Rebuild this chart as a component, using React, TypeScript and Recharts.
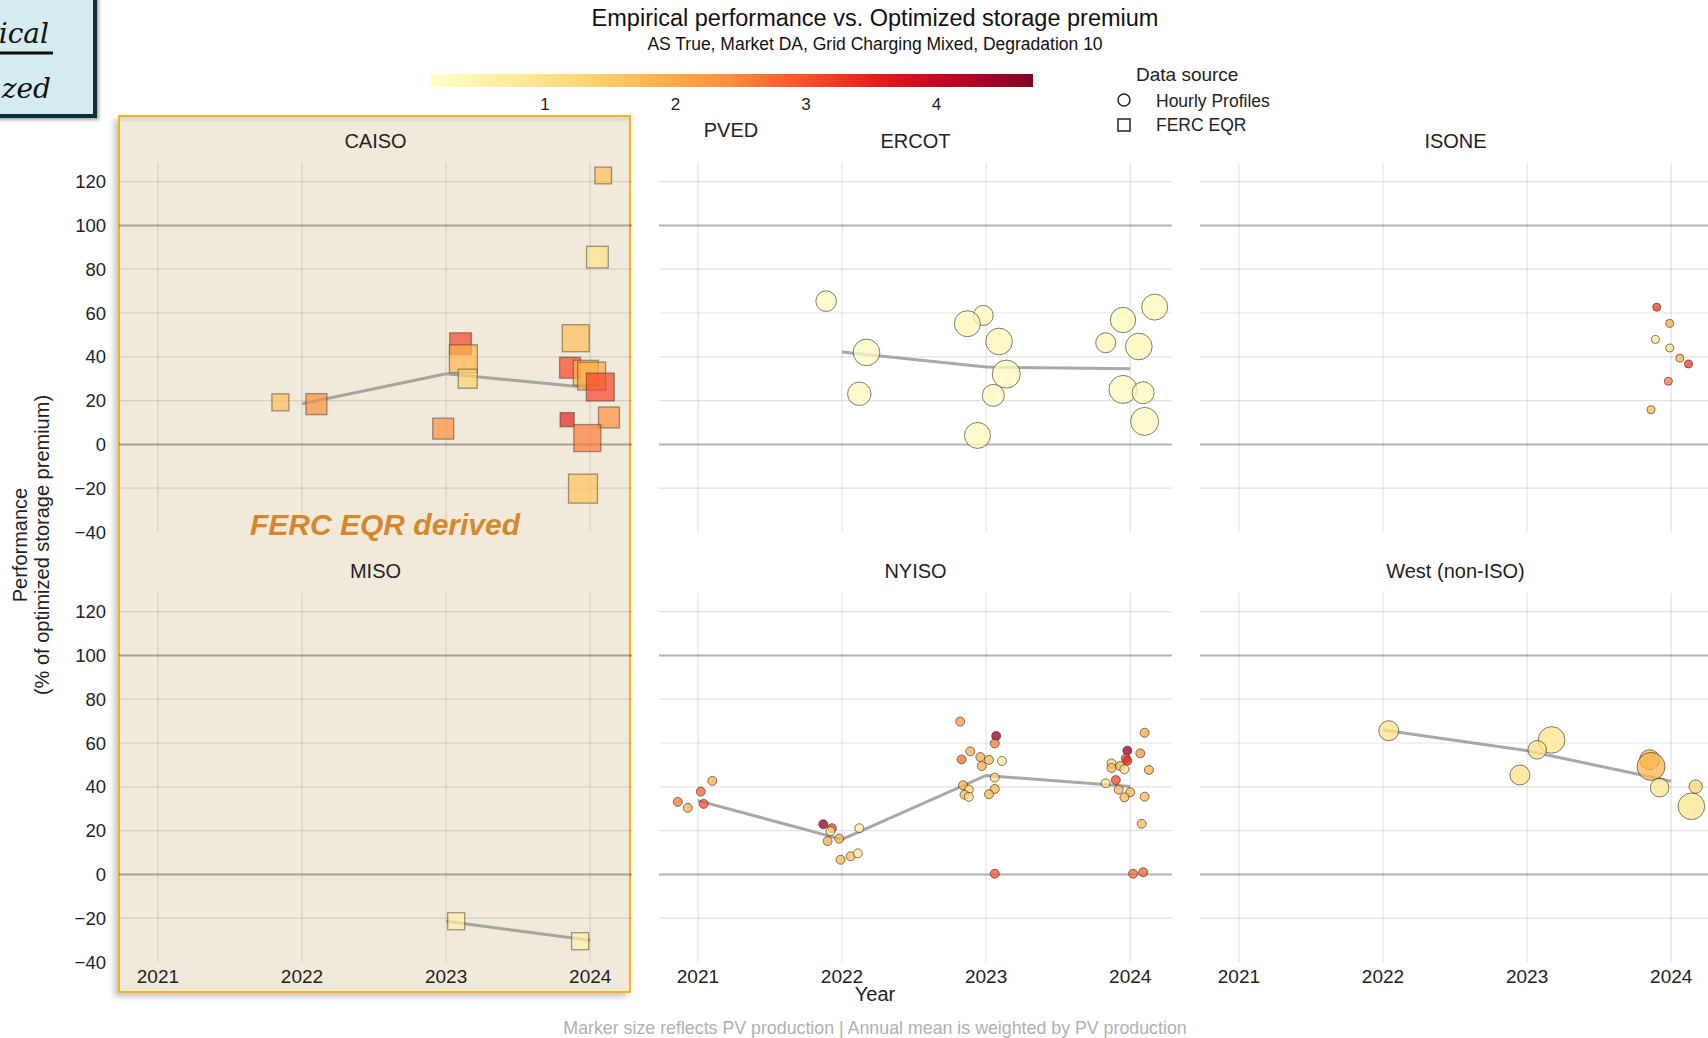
import React from "react";
import { ComposedChart, Scatter, XAxis, YAxis, ZAxis, CartesianGrid } from "recharts";

const YEARS = [2021, 2022, 2023, 2024];
const PERF_TICKS = [-40, -20, 0, 20, 40, 60, 80, 100, 120];
const MINOR_GRID = [-20, 20, 40, 60, 80, 120];
const MAJOR_GRID = [0, 100];
const CBAR_TICKS = [1, 2, 3, 4];

// rows: [year, performance %, PV production (rel.), colour value]
const caiso = [
  [2021.85, 19.2, 290, 1.7],
  [2022.1, 18.4, 440, 2.4],
  [2022.98, 7.2, 440, 2.4],
  [2023.1, 46, 470, 3.1],
  [2023.12, 39.1, 780, 1.8],
  [2023.15, 30, 360, 1.4],
  [2024.09, 122.8, 280, 1.7],
  [2024.05, 85.5, 470, 1.0],
  [2023.9, 48.5, 730, 1.7],
  [2023.86, 35, 440, 3.1],
  [2023.97, 32.7, 625, 1.8],
  [2024.01, 31.2, 780, 2.0],
  [2024.07, 26.2, 780, 3.1],
  [2024.13, 12.3, 440, 2.4],
  [2023.84, 11.3, 200, 3.5],
  [2023.98, 2.9, 730, 2.6],
  [2023.95, -20.2, 840, 1.6],
];
const caisoMean = [[2022, 18.6], [2023, 32.3], [2024, 25.9]];

const miso = [
  [2023.07, -21.4, 290, 0.6],
  [2023.93, -30.5, 290, 0.6],
];
const misoMean = [[2023, -21.4], [2024, -30.1]];

const ercot = [
  [2021.89, 65.4, 425, 0.35],
  [2022.17, 42, 710, 0.3],
  [2022.12, 23.1, 550, 0.35],
  [2022.98, 58.9, 400, 0.35],
  [2022.87, 55.1, 675, 0.4],
  [2023.09, 47, 710, 0.4],
  [2023.14, 32.1, 785, 0.3],
  [2023.05, 22.4, 485, 0.35],
  [2022.94, 4.1, 675, 0.35],
  [2023.83, 46.4, 400, 0.4],
  [2023.95, 56.8, 645, 0.35],
  [2024.17, 62.7, 675, 0.35],
  [2024.06, 44.7, 710, 0.4],
  [2023.95, 25.1, 785, 0.3],
  [2024.09, 23.6, 485, 0.35],
  [2024.1, 10.5, 785, 0.3],
];
const ercotMean = [[2022, 42.2], [2023, 35.3], [2024, 34.6]];

const isone = [
  [2023.9, 62.6, 64, 3.2],
  [2023.99, 55.3, 64, 1.9],
  [2023.89, 47.9, 64, 0.8],
  [2023.99, 44, 64, 1.1],
  [2024.06, 39.4, 64, 1.9],
  [2024.12, 36.7, 64, 3.2],
  [2023.98, 28.8, 64, 2.6],
  [2023.86, 15.8, 64, 1.7],
];

const nyiso = [
  [2020.86, 33.1, 81, 2.6],
  [2020.93, 30.4, 81, 1.9],
  [2021.02, 37.8, 81, 2.8],
  [2021.04, 32.2, 81, 3.0],
  [2021.1, 42.7, 81, 1.9],
  [2021.87, 22.9, 81, 4.5],
  [2021.93, 21.1, 81, 3.2],
  [2021.92, 19.7, 81, 1.0],
  [2021.9, 15.2, 81, 1.9],
  [2021.98, 16.3, 81, 1.9],
  [2022.12, 21.1, 81, 0.7],
  [2021.99, 6.7, 81, 1.8],
  [2022.06, 8.3, 81, 1.7],
  [2022.11, 9.6, 81, 0.9],
  [2022.82, 69.8, 81, 2.2],
  [2023.07, 63.2, 81, 4.5],
  [2023.06, 59.8, 81, 2.6],
  [2022.89, 56.2, 81, 1.9],
  [2022.83, 52.5, 81, 2.7],
  [2022.96, 53.6, 81, 1.9],
  [2023.02, 52.3, 81, 1.8],
  [2023.11, 51.8, 81, 0.8],
  [2022.97, 49.5, 81, 1.9],
  [2023.06, 44.2, 81, 1.3],
  [2022.84, 40.7, 81, 1.8],
  [2022.88, 38.7, 81, 1.2],
  [2022.85, 36.4, 81, 1.7],
  [2022.88, 35.4, 81, 1.0],
  [2023.06, 39, 81, 1.8],
  [2023.02, 36.6, 81, 1.8],
  [2023.06, 0.3, 81, 3.0],
  [2024.1, 64.7, 81, 2.0],
  [2023.98, 56.5, 81, 4.5],
  [2024.07, 55.3, 81, 2.3],
  [2023.97, 53, 81, 3.0],
  [2023.98, 51.9, 81, 3.4],
  [2023.87, 50.7, 81, 1.3],
  [2023.93, 49.5, 81, 1.9],
  [2023.87, 48.6, 81, 1.8],
  [2023.96, 48, 81, 1.0],
  [2024.13, 47.7, 81, 1.9],
  [2023.9, 43.1, 81, 3.1],
  [2023.83, 41.6, 81, 1.0],
  [2023.92, 38.7, 81, 1.8],
  [2024.0, 37.5, 81, 1.8],
  [2023.96, 35.2, 81, 1.8],
  [2024.1, 35.5, 81, 1.8],
  [2024.08, 23.1, 81, 1.7],
  [2024.02, 0.3, 81, 2.8],
  [2024.09, 1.0, 81, 2.8],
];
const nyisoMean = [[2021, 33.7], [2022, 16], [2023, 45.2], [2024, 40.1]];

const west = [
  [2022.04, 65.6, 400, 1.0],
  [2022.95, 45.4, 400, 1.0],
  [2023.17, 61.4, 710, 0.9],
  [2023.07, 56.9, 345, 1.0],
  [2023.85, 52.4, 400, 1.8],
  [2023.86, 49.3, 785, 1.8],
  [2023.92, 39.6, 345, 0.9],
  [2024.17, 40.1, 180, 1.3],
  [2024.14, 31.1, 710, 0.9],
];
const westMean = [[2022, 65.9], [2023, 56.5], [2024, 42.5]];

const YLORRD = ["#ffffcc", "#ffeda0", "#fed976", "#feb24c", "#fd8d3c", "#fc4e2a", "#e31a1c", "#bd0026", "#800026"];
const C_MIN = 0.11;
const C_MAX = 4.74;

const X_DOMAIN = [2020.73, 2024.29];
const Y_DOMAIN = [-40, 128.5];
const PLOT_H = 369;
const ROW_TOP = [163, 593];
const COLS = [
  { left: 119, width: 513 },
  { left: 659, width: 513 },
  { left: 1200, width: 513 },
];
const FONT = "'Liberation Sans', Arial, sans-serif";

const hex = (h: string) => [1, 3, 5].map((i) => parseInt(h.slice(i, i + 2), 16));

function colorAt(v: number) {
  const t = Math.min(1, Math.max(0, (v - C_MIN) / (C_MAX - C_MIN)));
  const p = t * (YLORRD.length - 1);
  const i = Math.min(YLORRD.length - 2, Math.floor(p));
  const f = p - i;
  const a = hex(YLORRD[i]);
  const b = hex(YLORRD[i + 1]);
  const c = a.map((x, k) => Math.round(x + (b[k] - x) * f));
  return `rgb(${c[0]},${c[1]},${c[2]})`;
}

const toPts = (rows: number[][]) => rows.map(([x, y, pv, c]) => ({ x, y, pv, c }));
const toMean = (rows: number[][]) => rows.map(([x, y]) => ({ x, y }));
const fmt = (v: number) => (v < 0 ? `\u2212${Math.abs(v)}` : String(v));

function markerShape(kind: string) {
  return (props: any) => {
    const { cx, cy, payload } = props;
    if (cx == null || cy == null) return <g />;
    const d = typeof props.width === "number" && props.width > 0 ? props.width : Math.sqrt(payload.pv);
    const fill = colorAt(payload.c);
    if (kind === "square") {
      return (
        <rect x={cx - d / 2} y={cy - d / 2} width={d} height={d} fill={fill} fillOpacity={0.7}
          stroke="rgba(70,60,45,0.5)" strokeWidth={1.3} />
      );
    }
    return <circle cx={cx} cy={cy} r={d / 2} fill={fill} fillOpacity={0.76} stroke="rgba(40,40,40,0.6)" strokeWidth={1} />;
  };
}

const PANELS = [
  { title: "CAISO", row: 0, col: 0, kind: "square", pts: caiso, mean: caisoMean },
  { title: "ERCOT", row: 0, col: 1, kind: "circle", pts: ercot, mean: ercotMean },
  { title: "ISONE", row: 0, col: 2, kind: "circle", pts: isone, mean: [] as number[][] },
  { title: "MISO", row: 1, col: 0, kind: "square", pts: miso, mean: misoMean },
  { title: "NYISO", row: 1, col: 1, kind: "circle", pts: nyiso, mean: nyisoMean },
  { title: "West (non-ISO)", row: 1, col: 2, kind: "circle", pts: west, mean: westMean },
];

function Panel({ p }: { p: (typeof PANELS)[number] }) {
  const col = COLS[p.col];
  const showY = p.col === 0;
  const showX = p.row === 1;
  const yw = showY ? 120 : 0;
  const padB = showY && !showX ? 14 : 0;
  const tickStyle = { fontSize: 18.5, fill: "#222", fontFamily: FONT };
  return (
    <div style={{ position: "absolute", left: col.left - yw, top: ROW_TOP[p.row] }}>
      <ComposedChart width={col.width + yw} height={PLOT_H + (showX ? 40 : 0) + padB}
        margin={{ top: 0, right: 0, bottom: padB, left: 0 }}>
        <XAxis type="number" dataKey="x" domain={X_DOMAIN} ticks={YEARS} interval={0} allowDataOverflow hide={!showX}
          height={40} axisLine={false} tickLine={false} tickSize={0} tickMargin={8}
          tick={{ ...tickStyle, fontSize: 19 }} />
        <YAxis yAxisId="main" type="number" dataKey="y" domain={Y_DOMAIN} ticks={PERF_TICKS} interval={0} allowDataOverflow
          hide={!showY} width={120} axisLine={false} tickLine={false} tickSize={0} tickMargin={13} tick={tickStyle}
          tickFormatter={fmt} />
        <YAxis yAxisId="minor" type="number" domain={Y_DOMAIN} ticks={MINOR_GRID} allowDataOverflow hide />
        <YAxis yAxisId="major" type="number" domain={Y_DOMAIN} ticks={MAJOR_GRID} allowDataOverflow hide />
        <ZAxis type="number" dataKey="pv" domain={[0, 1000]} range={[0, 785.4]} />
        <CartesianGrid yAxisId="minor" syncWithTicks stroke="rgba(0,0,0,0.11)" strokeWidth={1.2} />
        <CartesianGrid yAxisId="major" syncWithTicks vertical={false} stroke="rgba(0,0,0,0.3)" strokeWidth={2} />
        {p.mean.length > 1 && (
          <Scatter yAxisId="main" data={toMean(p.mean)} line={{ stroke: "#999", strokeWidth: 3, strokeOpacity: 0.85 }}
            shape={() => <g />} isAnimationActive={false} />
        )}
        <Scatter yAxisId="main" data={toPts(p.pts)} shape={markerShape(p.kind)} isAnimationActive={false} />
      </ComposedChart>
    </div>
  );
}

export default function App() {
  const cbX = 429;
  const cbW = 604;
  return (
    <div style={{ position: "absolute", left: 0, top: 0, width: 1708, height: 1038, overflow: "hidden", background: "#fff", fontFamily: FONT }}>
      <div style={{ position: "absolute", left: -20, top: -20, width: 117, height: 138, boxSizing: "border-box",
        background: "#d4ebf0", border: "4px solid #0e2f3a", boxShadow: "2px 2px 3px rgba(0,0,0,0.35)" }} />
      <div style={{ position: "absolute", left: 118, top: 115, width: 513, height: 878, boxSizing: "border-box",
        background: "#f1eadb", border: "2px solid #f6b224",
        boxShadow: "-4px 4px 6px rgba(0,0,0,0.22), inset 0 7px 6px -5px rgba(0,0,0,0.12)" }} />
      {PANELS.map((p) => <Panel key={p.title} p={p} />)}
      <svg width={1708} height={1038} style={{ position: "absolute", left: 0, top: 0, pointerEvents: "none" }} fontFamily={FONT}>
        <defs>
          <linearGradient id="ylorrd" x1="0" x2="1" y1="0" y2="0">
            {YLORRD.map((c, i) => <stop key={c} offset={i / (YLORRD.length - 1)} stopColor={c} />)}
          </linearGradient>
        </defs>
        <g fontFamily="'DejaVu Serif', serif" fontStyle="italic" fontSize={28} fill="#111" textAnchor="end">
          <text x={49} y={43}>ical</text>
          <rect x={0} y={51.5} width={53} height={3} fill="#111" />
          <text x={51} y={98}>zed</text>
        </g>
        <text x={875} y={26} textAnchor="middle" fontSize={23.5} fill="#111">Empirical performance vs. Optimized storage premium</text>
        <text x={875} y={50} textAnchor="middle" fontSize={17.5} fill="#111">AS True, Market DA, Grid Charging Mixed, Degradation 10</text>
        <rect x={cbX} y={74} width={cbW} height={13} fill="url(#ylorrd)" />
        {CBAR_TICKS.map((t) => (
          <text key={t} x={cbX + ((t - C_MIN) / (C_MAX - C_MIN)) * cbW} y={110} textAnchor="middle" fontSize={17} fill="#222">{t}</text>
        ))}
        <text x={1136} y={81} fontSize={19} fill="#222">Data source</text>
        <circle cx={1124} cy={100} r={6} fill="none" stroke="#222" strokeWidth={1.5} />
        <text x={1156} y={106.5} fontSize={17.5} fill="#222">Hourly Profiles</text>
        <rect x={1118} y={119} width={12} height={12} fill="none" stroke="#222" strokeWidth={1.5} />
        <text x={1156} y={131} fontSize={17.5} fill="#222">FERC EQR</text>
        <text x={731} y={136.5} textAnchor="middle" fontSize={20} fill="#222">PVED</text>
        {PANELS.map((p) => (
          <text key={p.title} x={COLS[p.col].left + COLS[p.col].width / 2 - (p.col === 2 ? 1 : 0)} y={ROW_TOP[p.row] - 15}
            textAnchor="middle" fontSize={20} fill="#222">{p.title}</text>
        ))}
        <text x={385} y={535} textAnchor="middle" fontSize={30} fontWeight="bold" fontStyle="italic" fill="#d4882e">FERC EQR derived</text>
        <g fontSize={20} fill="#222" textAnchor="middle">
          <text transform="translate(27,545) rotate(-90)">Performance</text>
          <text transform="translate(49,545) rotate(-90)">(% of optimized storage premium)</text>
        </g>
        <text x={875} y={1001} textAnchor="middle" fontSize={20} fill="#222">Year</text>
        <text x={875} y={1034} textAnchor="middle" fontSize={17.8} fill="#b0b0b0">Marker size reflects PV production | Annual mean is weighted by PV production</text>
      </svg>
    </div>
  );
}
